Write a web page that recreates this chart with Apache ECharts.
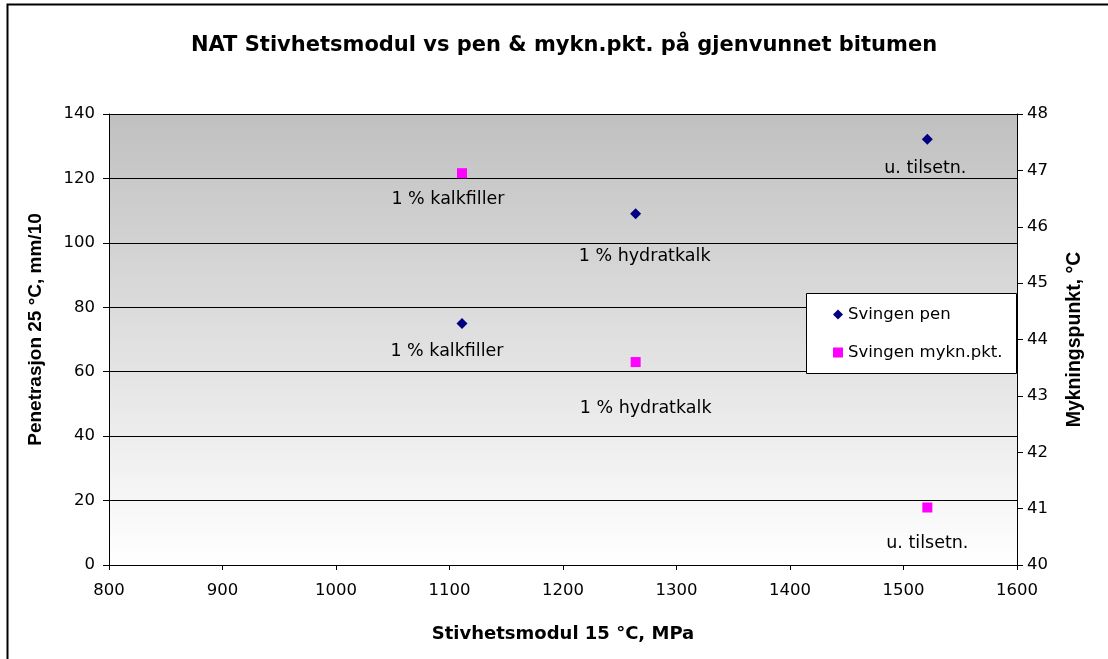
<!DOCTYPE html>
<html><head><meta charset="utf-8">
<script src="https://cdn.jsdelivr.net/npm/echarts@6/dist/echarts.min.js"></script>
<style>html,body{margin:0;padding:0;background:#fff}#c{width:1108px;height:659px}</style>
</head><body><div id="c"></div>
<script>
const stiffness = [1111, 1264, 1521];
const penValues = [75, 109, 132.2];
const myknValues = [46.95, 43.6, 41.02];
const pointLabels = ['1 % kalkfiller', '1 % hydratkalk', 'u. tilsetn.'];
const xTicks = [800, 1600, 100];
const penTicks = [0, 140, 20];
const myknTicks = [40, 48, 1];

const penLabelOffsets = [[-15, 6], [9, 20], [-2, 7]];
const myknLabelOffsets = [[-14, 4], [10, 24], [0, 14]];

const WIDE = 'DejaVu Sans, sans-serif';
const ARIAL = 'Liberation Sans, Arial, sans-serif';
const chart = echarts.init(document.getElementById('c'));

function buildData(ys, offs) {
  return stiffness.map((x, i) => ({
    value: [x, ys[i]],
    label: { offset: offs[i] }
  }));
}
const labelStyle = {
  show: true, position: 'bottom', distance: 8,
  formatter: p => pointLabels[p.dataIndex],
  color: '#000', fontFamily: WIDE, fontSize: 17.5
};

chart.setOption({
  animation: false,
  backgroundColor: '#fff',
  title: {
    text: 'NAT Stivhetsmodul vs pen & mykn.pkt. på gjenvunnet bitumen',
    left: 559, top: 30, textAlign: 'center',
    textStyle: { fontFamily: WIDE, fontSize: 21, fontWeight: 'bold', color: '#000' }
  },
  grid: {
    left: 109, right: 91, top: 114, bottom: 94,
    show: true, borderWidth: 0,
    backgroundColor: new echarts.graphic.LinearGradient(0, 0, 0, 1, [
      { offset: 0, color: '#c0c0c0' }, { offset: 1, color: '#ffffff' }
    ])
  },
  legend: {
    orient: 'vertical', left: 833, top: 304,
    itemGap: 17, itemWidth: 10, itemHeight: 10,
    padding: 0,
    textStyle: { fontFamily: WIDE, fontSize: 16.5, color: '#000', lineHeight: 21 },
    data: [
      { name: 'Svingen pen', icon: 'diamond' },
      { name: 'Svingen mykn.pkt.', icon: 'rect' }
    ]
  },
  xAxis: {
    type: 'value', min: xTicks[0], max: xTicks[1], interval: xTicks[2],
    name: 'Stivhetsmodul 15 °C, MPa', nameLocation: 'middle', nameGap: 60,
    nameTextStyle: { fontFamily: WIDE, fontSize: 18, fontWeight: 'bold', color: '#000' },
    axisLine: { lineStyle: { color: '#000', width: 1 } },
    axisTick: { show: true, length: 5, lineStyle: { color: '#000' } },
    axisLabel: { fontFamily: WIDE, fontSize: 16.5, color: '#000', margin: 17, formatter: v => String(v) },
    splitLine: { show: false }
  },
  yAxis: [{
    type: 'value', min: penTicks[0], max: penTicks[1], interval: penTicks[2],
    name: 'Penetrasjon 25 °C, mm/10', nameLocation: 'middle', nameGap: 64,
    nameTextStyle: { fontFamily: ARIAL, fontSize: 19, fontWeight: 'bold', color: '#000', padding: [0, 0, 0, 20] },
    axisLine: { show: true, lineStyle: { color: '#000' } },
    axisTick: { show: true, length: 6, lineStyle: { color: '#000' } },
    axisLabel: { fontFamily: WIDE, fontSize: 16.5, color: '#000', margin: 14 },
    splitLine: { show: true, lineStyle: { color: '#000', width: 1 } }
  }, {
    type: 'value', min: myknTicks[0], max: myknTicks[1], interval: myknTicks[2],
    position: 'right',
    name: 'Mykningspunkt, °C', nameLocation: 'middle', nameGap: 48,
    nameTextStyle: { fontFamily: ARIAL, fontSize: 19.5, fontWeight: 'bold', color: '#000' },
    axisLine: { show: true, lineStyle: { color: '#000' } },
    axisTick: { show: true, length: 6, lineStyle: { color: '#000' } },
    axisLabel: { fontFamily: WIDE, fontSize: 16.5, color: '#000', margin: 10 },
    splitLine: { show: false }
  }],
  series: [{
    name: 'Svingen pen', type: 'scatter', yAxisIndex: 0,
    symbol: 'diamond', symbolSize: 11,
    itemStyle: { color: '#000080', opacity: 1 },
    label: labelStyle,
    data: buildData(penValues, penLabelOffsets)
  }, {
    name: 'Svingen mykn.pkt.', type: 'scatter', yAxisIndex: 1,
    symbol: 'rect', symbolSize: 10,
    itemStyle: { color: '#ff00ff', opacity: 1 },
    label: labelStyle,
    data: buildData(myknValues, myknLabelOffsets)
  }],
  graphic: [{
    type: 'rect', silent: true, z: 1,
    shape: { x: 7.5, y: 4.5, width: 1200, height: 800 },
    style: { fill: 'none', stroke: '#000', lineWidth: 2 }
  }, {
    type: 'rect', silent: true, z: 1,
    shape: { x: 806.5, y: 293.5, width: 210, height: 80 },
    style: { fill: '#fff', stroke: '#000', lineWidth: 1 }
  }]
});
</script></body></html>
